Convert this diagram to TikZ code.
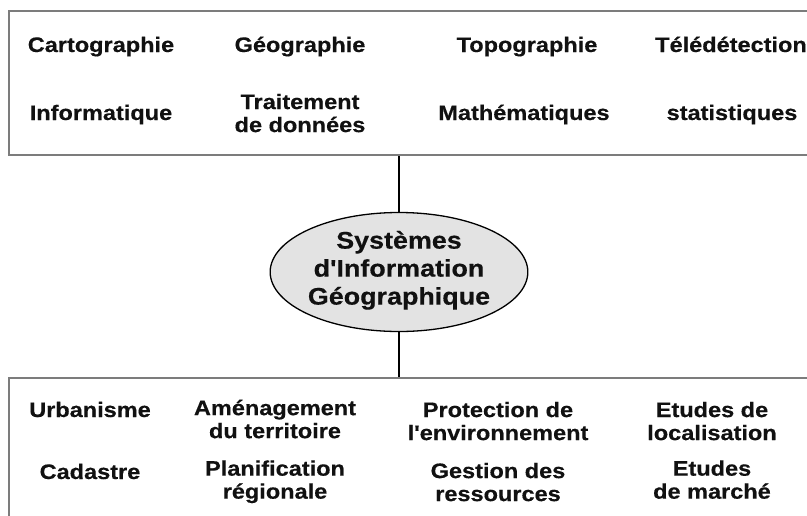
\documentclass[tikz,border=0pt]{standalone}
\usepackage{fontspec}
\usetikzlibrary{shapes.geometric}
\newfontfamily\labfont{Liberation Sans}[FakeStretch=1.12,FakeBold=0.4]
\definecolor{boxline}{HTML}{7C7C7C}
\definecolor{sigfill}{HTML}{E3E3E3}
\definecolor{ink}{HTML}{111111}
\begin{document}
\begin{tikzpicture}[x=1pt,y=-1pt,
  lbl/.style={align=center,inner sep=0pt,text=ink,
    font=\labfont\bfseries\fontsize{21}{23}\selectfont,
    execute at begin node=\strut,execute at end node=\strut},
  panel/.style={draw=boxline,line width=1.6pt,rectangle,inner sep=0pt},
  sigbox/.style={ellipse,draw=black,fill=sigfill,line width=1.3pt,
    minimum width=246pt,minimum height=119pt,inner sep=0pt,align=center,
    text=ink,font=\labfont\bfseries\fontsize{24}{28}\selectfont,
    execute at begin node=\strut,execute at end node=\strut},
  link/.style={draw=black,line width=1.3pt}]
\useasboundingbox (0,0) rectangle (807,515);
\clip (0,0) rectangle (807,515);
\fill[white] (0,0) rectangle (807,515);

% panels
\node[panel,minimum width=821pt,minimum height=144pt] (topbox) at (419.5,83) {};
\node[panel,minimum width=821pt,minimum height=160pt] (botbox) at (419.5,458) {};

% central ellipse
\node[sigbox] (sig) at (399,272) {Systèmes\\d'Information\\Géographique};

% connectors
\draw[link] (sig.north) -- (sig.north |- topbox.south);
\draw[link] (sig.south) -- (sig.south |- botbox.north);

% disciplines
\node[lbl] (carto) at (101,47.4) {Cartographie};
\node[lbl] (geo)   at (300,47.4) {Géographie};
\node[lbl] (topo)  at (527,47.4) {Topographie};
\node[lbl] (tele)  at (731,47.4) {Télédétection};
\node[lbl] (info)  at (101,115.4) {Informatique};
\node[lbl] (trait) at (300,116.4) {Traitement\\de données};
\node[lbl] (math)  at (524,115.4) {Mathématiques};
\node[lbl] (stat)  at (732,115.4) {statistiques};

% applications
\node[lbl] (urba)  at (90,412.4)  {Urbanisme};
\node[lbl] (amen)  at (275,422.4) {Aménagement\\du territoire};
\node[lbl] (prot)  at (498,424.4) {Protection de\\l'environnement};
\node[lbl] (loca)  at (712,424.4) {Etudes de\\localisation};
\node[lbl] (cada)  at (90,474.4)  {Cadastre};
\node[lbl] (plan)  at (275,483)   {Planification\\régionale};
\node[lbl] (gest)  at (498,485.4) {Gestion des\\ressources};
\node[lbl] (marc)  at (712,483)   {Etudes\\de marché};
\end{tikzpicture}
\end{document}
